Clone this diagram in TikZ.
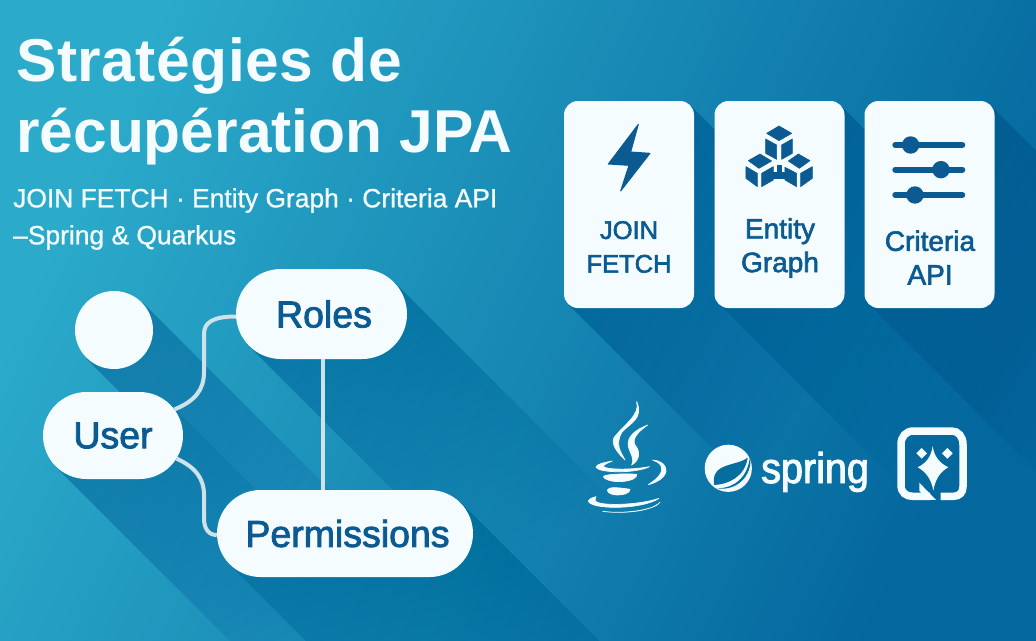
\documentclass[tikz,border=0pt]{standalone}
\usepackage{fontspec}
\usetikzlibrary{shapes.misc,calc}
\setmainfont{Liberation Sans}
\newfontfamily\medfont[FakeBold=2.2]{Liberation Sans}
\newfontfamily\subfont[FakeBold=0.9]{Liberation Sans}
\newfontfamily\sprfont[FakeBold=2.2,FakeStretch=0.92]{Liberation Sans}
\definecolor{bgA}{HTML}{2BAACA}
\definecolor{bgB}{HTML}{0D8CB6}
\definecolor{bgC}{HTML}{04679E}
\definecolor{shd}{HTML}{02528A}
\definecolor{cardc}{HTML}{F5FCFF}
\definecolor{ink}{HTML}{0B5A91}
\definecolor{wire}{HTML}{CFE2EA}
\definecolor{logobg}{HTML}{066E9F}
\tikzset{
  pill/.style={rounded rectangle,fill=cardc,inner sep=0pt,text=ink,font=\medfont\fontsize{37.5}{40}\selectfont},
  cardbox/.style={rectangle,rounded corners=14pt,fill=cardc,minimum width=130pt,minimum height=207pt,inner sep=0pt},
  cardtext/.style={align=center,text=ink,inner sep=0pt,font=\medfont\fontsize{25.5}{33.7}\selectfont},
  cardtextB/.style={align=center,text=ink,inner sep=0pt,font=\medfont\fontsize{28}{33.7}\selectfont},
  wireline/.style={draw=wire,line width=4pt},
  logoshape/.style={fill=cardc,draw=cardc,line width=0.7pt,line join=round},
  cubeshape/.style={fill=ink,draw=ink,line width=0.6pt,line join=round},
  zoomA/.style={shift={(560,90)},x=0.3333pt,y=-0.3333pt},
  zoomS/.style={shift={(695,435)},x=0.3333pt,y=-0.3333pt},
  zoomQ/.style={shift={(890,420)},x=0.3333pt,y=-0.3333pt},
  zoomJ/.style={shift={(580,395)},x=0.3333pt,y=-0.3333pt},
}
\newcommand{\lsh}[5]{(#1,#2) -- (#3,#4) -- ($(#3,#4)+(#5,#5)$) -- ($(#1,#2)+(#5,#5)$) -- cycle}
\begin{document}
\begin{tikzpicture}[x=1pt,y=-1pt]
\useasboundingbox (0,0) rectangle (1036,640);
\begin{scope}
\clip (0,0) rectangle (1036,640);
\shade[top color=bgA,middle color=bgB,bottom color=bgC,shading angle=65] (0,0) rectangle (1036,640);
% long flat shadows
\foreach \L in {10,20,...,220}{
  \fill[shd,opacity=0.018]
    \lsh{142}{302}{86}{358}{\L}
    \lsh{393.8}{282.2}{249.2}{345.8}{\L}
    \lsh{170.3}{404.7}{55.7}{466.3}{\L}
    \lsh{460.3}{502.7}{229.7}{564.3}{\L};
}
\foreach \L in {10,20,...,180}{
  \fill[shd,opacity=0.03]
    \lsh{689.9}{105.1}{568.1}{303.9}{\L}
    \lsh{839.9}{105.1}{719.1}{303.9}{\L}
    \lsh{989.9}{105.1}{869.1}{303.9}{\L};
}
\end{scope}
% title
\node[anchor=north west,inner sep=0pt,align=left,text=cardc,font=\bfseries\fontsize{60.5}{71}\selectfont] (title) at (16,37) {{\addfontfeature{LetterSpace=0.9}Stratégies de}\\récupération JPA};
\node[anchor=north west,inner sep=0pt,align=left,text=cardc,font=\subfont\fontsize{26.4}{37}\selectfont] (subtitle) at (13,188) {JOIN FETCH · Entity Graph · Criteria API\\–Spring \& Quarkus};
% nodes
\node[circle,fill=cardc,minimum width=78pt,inner sep=0pt] (head) at (114,330) {};
\node[pill,minimum width=171pt,minimum height=90pt] (roles) at (321.5,314) {\hspace*{5pt}Roles};
\node[pill,minimum width=140pt,minimum height=87pt] (user) at (113,435.5) {User};
\node[pill,minimum width=256pt,minimum height=87pt] (perm) at (345,533.5) {\hspace*{5pt}Permissions};
% connectors
\draw[wireline] (user.23) .. controls (195,401) and (204,390) .. (204,372) -- (204,334) .. controls (204,323) and (212,316.5) .. ([yshift=-2.5pt]roles.west);
\draw[wireline] (user.-20) .. controls (195,467) and (204,478) .. (204,495) -- (204,518) .. controls (204,528) and (208,535) .. ([yshift=-1.5pt]perm.west);
\draw[wireline] ([xshift=1.5pt]roles.south) -- ([xshift=1.5pt]roles.south |- perm.north);
% cards
\node[cardbox] (card1) at (629,204.5) {};
\node[cardbox] (card2) at (779.5,204.5) {};
\node[cardbox] (card3) at (929.5,204.5) {};
\node[cardtext] (t1) at (629,247) {JOIN\\FETCH};
\node[cardtextB] (t2) at (780,248) {Entity\\Graph};
\node[cardtextB] (t3) at (930,257.5) {Criteria\\API};
% lightning
\begin{scope}[zoomA]
\fill[ink,draw=ink,line width=1pt,line join=round] (235,103) -- (145,222) -- (207,226) -- (182,303) -- (270,190) -- (212,186) -- cycle;
% cubes
\path[cubeshape] (657,108) -- (695,130) -- (657,152) -- (620,130) -- cycle;
\path[cubeshape] (617,147) -- (650,165) -- (650,208) -- (617,190) -- cycle;
\path[cubeshape] (665,165) -- (697,147) -- (697,190) -- (665,208) -- cycle;
\path[cubeshape] (600,192) -- (635,213) -- (597,235) -- (565,212) -- cycle;
\path[cubeshape] (558,230) -- (592,250) -- (592,290) -- (558,265) -- cycle;
\path[cubeshape] (605,250) -- (640,230) -- (640,270) -- (605,290) -- cycle;
\path[cubeshape] (715,192) -- (750,212) -- (718,235) -- (685,213) -- cycle;
\path[cubeshape] (675,232) -- (710,250) -- (710,290) -- (675,270) -- cycle;
\path[cubeshape] (722,250) -- (757,230) -- (757,265) -- (722,290) -- cycle;
\path[cubeshape] (640,248) -- (652,248) -- (652,226) -- (664,226) -- (664,248) -- (675,248) -- (675,266) -- (640,266) -- cycle;
% sliders
\foreach \yy/\xx in {165/1052,239/1143,315/1065}{
  \draw[ink,line width=6pt,line cap=round] (1006,\yy) -- (1207,\yy);
  \fill[ink] (\xx,\yy) circle[radius=8.7pt];
}
\end{scope}
% java
\begin{scope}[zoomJ]
\path[logoshape] (170,20) .. controls (182,60) and (130,90) .. (102,128) .. controls (92,150) and (115,175) .. (135,195) .. controls (122,170) and (105,150) .. (125,112) .. controls (150,85) and (192,70) .. (170,20) -- cycle;
\path[logoshape] (203,90) .. controls (165,105) and (140,125) .. (145,155) .. controls (150,175) and (165,190) .. (155,210) .. controls (180,195) and (182,170) .. (165,150) .. controls (155,130) and (175,110) .. (203,90) -- cycle;
\path[logoshape] (97,198) .. controls (70,203) and (48,208) .. (48,217) .. controls (60,235) and (170,235) .. (208,215) .. controls (160,225) and (75,225) .. (70,214) .. controls (72,208) and (85,203) .. (97,198) -- cycle;
\path[logoshape] (70,245) .. controls (75,236) and (150,236) .. (170,238) .. controls (172,246) and (160,258) .. (120,260) .. controls (90,260) and (72,252) .. (70,245) -- cycle;
\path[logoshape] (82,286) .. controls (85,276) and (105,276) .. (150,283) .. controls (150,295) and (130,300) .. (112,300) .. controls (95,300) and (84,294) .. (82,286) -- cycle;
\path[logoshape] (48,305) .. controls (30,310) and (22,315) .. (27,322) .. controls (50,345) and (190,342) .. (237,310) .. controls (180,330) and (60,335) .. (46,318) .. controls (44,312) and (46,308) .. (48,305) -- cycle;
\path[logoshape] (68,349) .. controls (120,356) and (210,352) .. (240,322) .. controls (225,345) and (130,358) .. (68,349) -- cycle;
\path[logoshape] (218,195) .. controls (255,198) and (268,225) .. (250,245) .. controls (238,258) and (220,265) .. (205,269) .. controls (235,250) and (252,230) .. (243,212) .. controls (238,204) and (228,198) .. (218,195) -- cycle;
\end{scope}
% spring
\fill[cardc] (728.3,468.3) circle[radius=23.6pt];
\begin{scope}[zoomS]
\fill[logobg] (158,68) .. controls (130,90) and (75,85) .. (60,118) .. controls (55,130) and (56,142) .. (58,150) .. controls (100,148) and (150,125) .. (158,68) -- cycle;
\fill[logobg] (66,160) .. controls (120,160) and (160,125) .. (165,62) .. controls (175,110) and (135,170) .. (66,160) -- cycle;
\end{scope}
\node[anchor=base west,inner sep=0pt,text=cardc,font=\sprfont\fontsize{43}{43}\selectfont] (springtext) at (761,483) {spring};
% quarkus
\begin{scope}[zoomQ]
\draw[cardc,line width=7.5pt,line cap=butt] (152,229) -- (190,229) .. controls (208,229) and (219,218) .. (219,200) -- (219,73) .. controls (219,50) and (205,33) .. (185,33) -- (70,33) .. controls (48,33) and (33,50) .. (33,73) -- (33,195) .. controls (33,218) and (48,229) .. (68,229) -- (120,229);
\fill[cardc] (88,188) -- (138,240) -- (112,240) -- (88,212) -- cycle;
\fill[cardc] (128,78) .. controls (132,110) and (150,130) .. (175,142) .. controls (150,155) and (135,180) .. (130,212) .. controls (125,180) and (108,155) .. (83,142) .. controls (108,130) and (124,110) .. (128,78) -- cycle;
\fill[cardc] (95,84) -- (111,100) -- (95,116) -- (79,100) -- cycle;
\fill[cardc] (172,84) -- (188,100) -- (172,116) -- (156,100) -- cycle;
\end{scope}
\end{tikzpicture}
\end{document}
